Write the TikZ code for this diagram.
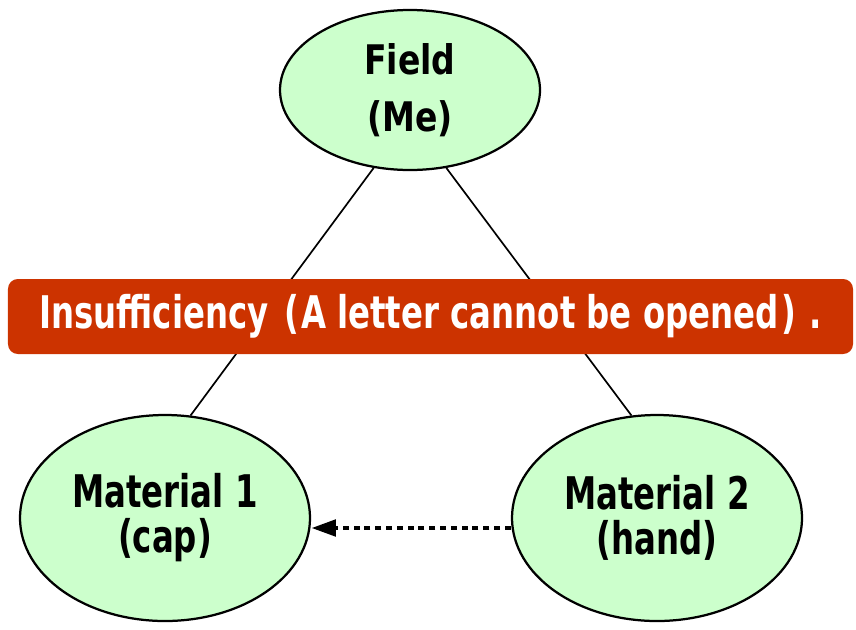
\documentclass[tikz,border=0pt]{standalone}
\usepackage{fontspec}
\setmainfont{DejaVu Sans Condensed}[BoldFont={DejaVu Sans Condensed Bold}, FakeStretch=0.8]
\newfontfamily\fieldfont{DejaVu Sans Condensed}[BoldFont={DejaVu Sans Condensed Bold}, FakeStretch=0.9]
\usepackage{xcolor}
\usetikzlibrary{positioning, shapes.geometric, arrows.meta}

\definecolor{leafgreen}{HTML}{CCFFCC}
\definecolor{brickred}{HTML}{CC3300}

\begin{document}
\begin{tikzpicture}[
  elem/.style={ellipse, draw, line width=1.6pt, fill=leafgreen, inner sep=0pt,
    align=center, font=\bfseries\fontsize{32}{32}\selectfont},
  link/.style={line width=1.2pt},
  banner/.style={rectangle, rounded corners=7pt, fill=brickred, text=white,
    inner sep=0pt, font=\bfseries\fontsize{32}{36}\selectfont}
]
\useasboundingbox (0,0) rectangle (21.4,-15.725);

% Field and its two materials
\node[elem, minimum width=6.5cm, minimum height=4cm, font=\fieldfont\bfseries\fontsize{29}{40.5}\selectfont]
  (field) at (10.25,-2.25) {Field\\(Me)};
\node[elem, minimum width=7.25cm, minimum height=5.15cm] (mat1) at (4.125,-12.95) {Material 1\\(cap)};
\node[elem, minimum width=7.25cm, minimum height=5.15cm] (mat2) at (16.425,-12.95) {Material 2\\(hand)};

\draw[link] (field.245) -- (mat1.76);
\draw[link] (field.295) -- (mat2.104);

% Missing relation
\node[banner, minimum width=21.125cm, minimum height=1.875cm] (gap) at (10.7625,-7.9125)
  {Insufficiency\hspace{0.35em}(\hspace{0.05em}A letter cannot be opened\hspace{0.05em})\hspace{0.3em}.};

\draw[-{Triangle[length=0.62cm, width=0.4cm]}, line width=3.5pt, dash pattern=on 0.15cm off 0.12cm]
  ([yshift=-0.25cm]mat2.west) -- ([yshift=-0.25cm]mat1.east);

\end{tikzpicture}
\end{document}
